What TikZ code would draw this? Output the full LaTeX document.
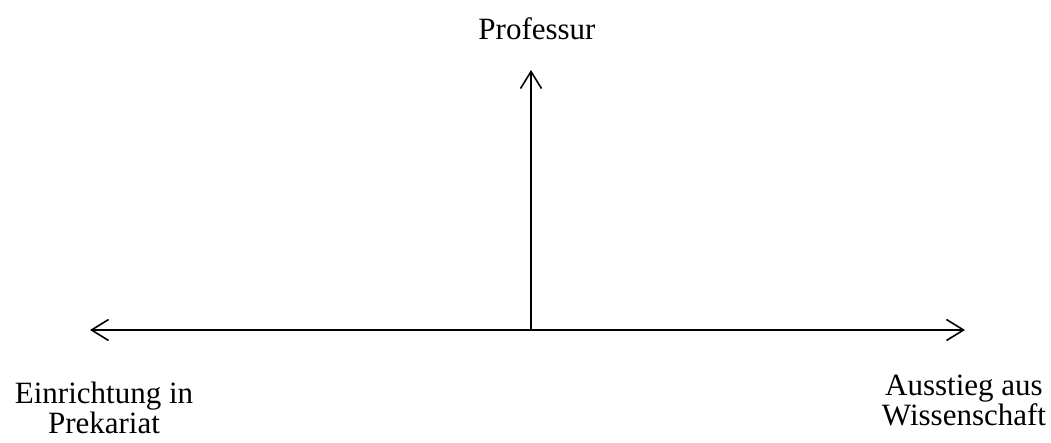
\documentclass[tikz,border=0pt]{standalone}
\usepackage{fontspec}
\setmainfont{Liberation Serif}
\usepackage{tikz}
\usetikzlibrary{arrows.meta,positioning}

\begin{document}
\begin{tikzpicture}[
  x=1pt, y=-1pt,
  axis/.style={line width=1.6pt},
  lbl/.style={align=center, inner sep=0pt, font=\fontsize{31}{30}\selectfont},
  >={Straight Barb[length=17pt, width=21pt, line width=1.6pt]}
]
\useasboundingbox (0,0) rectangle (1051,442);

\coordinate (origin) at (531,330);
\coordinate (left) at (90,330);
\coordinate (right) at (965,330);
\coordinate (top) at (531,70);

\node[lbl, anchor=base] (prof) at (537,39) {Professur};
\node[lbl, anchor=base] (prekariat) at (104,433) {Einrichtung in \\ Prekariat};
\node[lbl, anchor=base] (ausstieg) at (964,425) {Ausstieg aus \\ Wissenschaft};

\draw[axis, ->] (origin) -- (left);
\draw[axis, ->] (origin) -- (right);
\draw[axis, ->] (origin) -- (top);

\end{tikzpicture}
\end{document}
